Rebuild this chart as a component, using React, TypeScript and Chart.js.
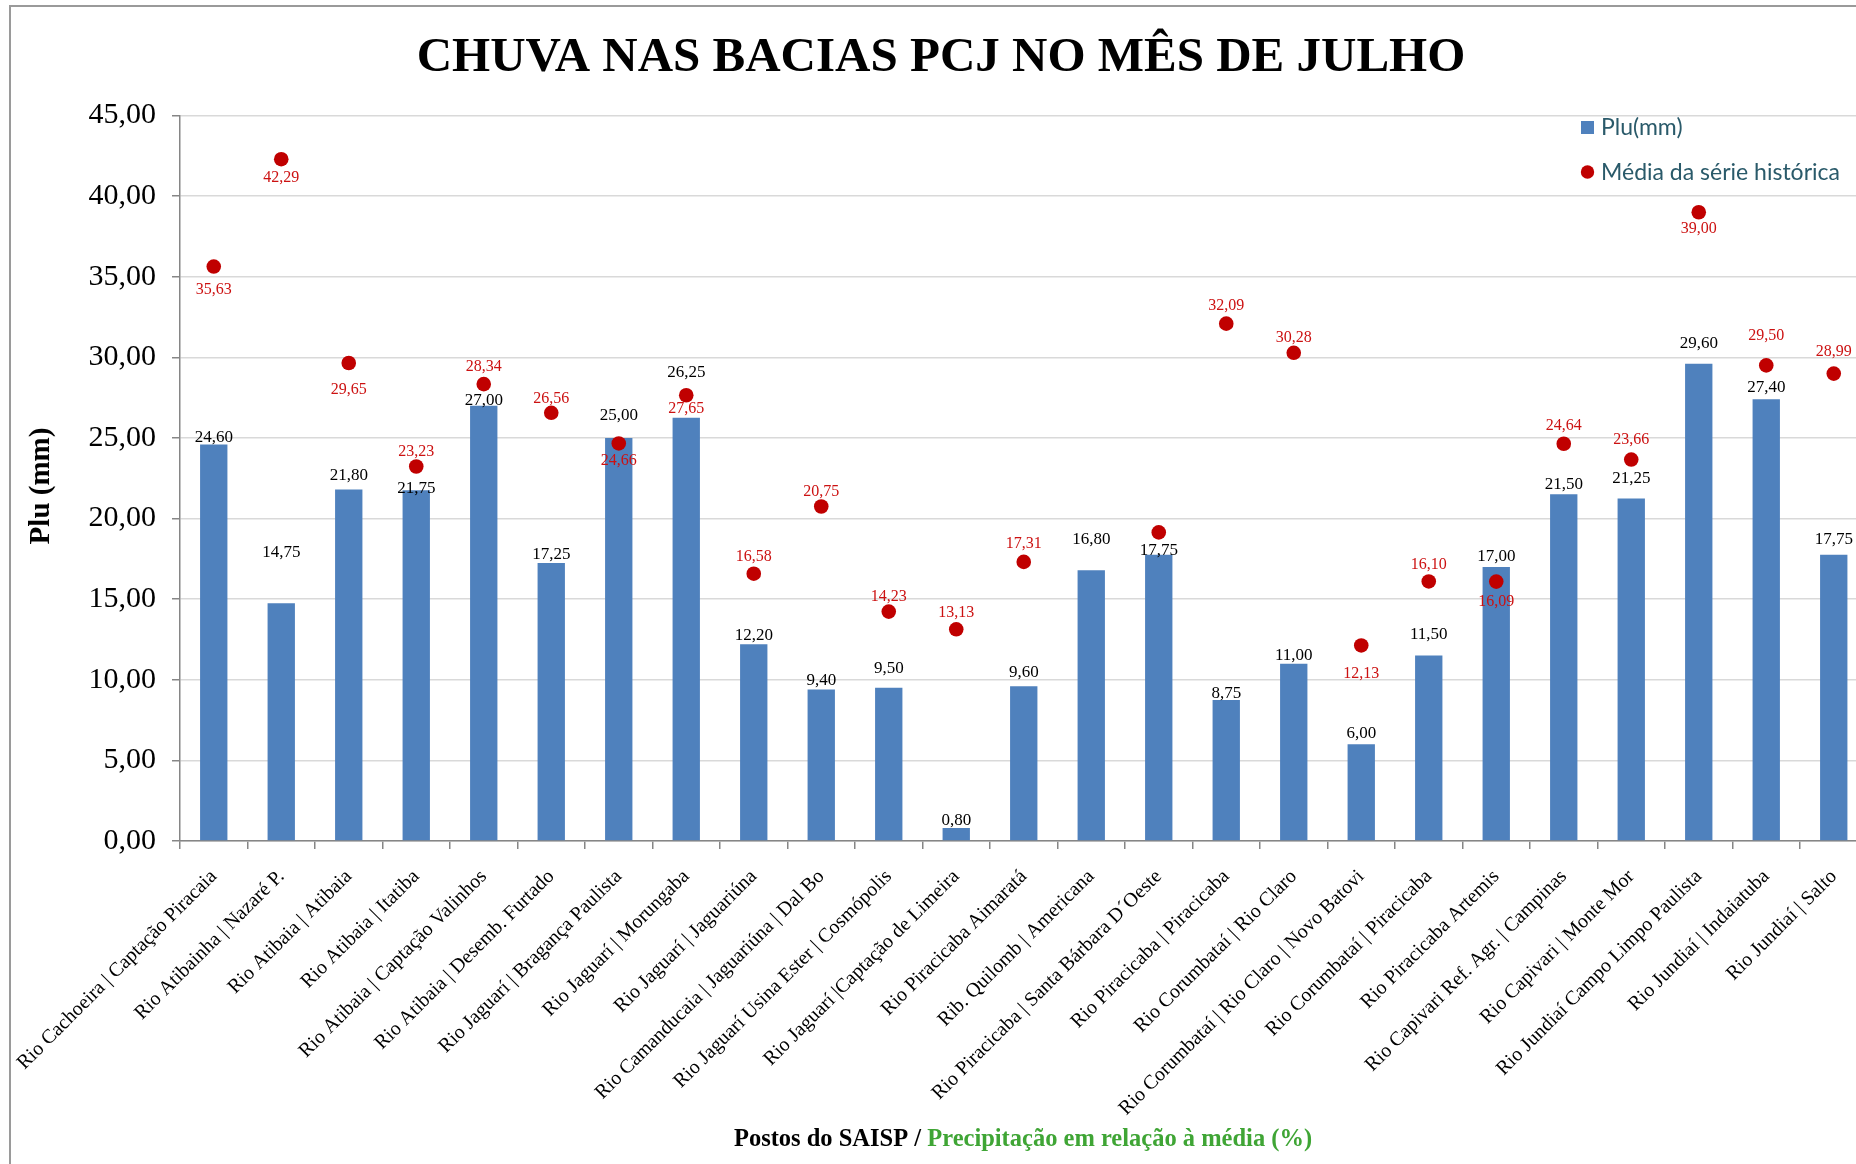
import React, { useEffect, useRef } from 'react';
import { Chart, registerables } from 'chart.js';

Chart.register(...registerables);

// ---------- data ----------
const categories: string[] = [
  'Rio Cachoeira | Captação Piracaia',
  'Rio Atibainha | Nazaré P.',
  'Rio Atibaia | Atibaia',
  'Rio Atibaia | Itatiba',
  'Rio Atibaia | Captação Valinhos',
  'Rio Atibaia | Desemb. Furtado',
  'Rio Jaguarí | Bragança Paulista',
  'Rio Jaguarí | Morungaba',
  'Rio Jaguarí | Jaguariúna',
  'Rio Camanducaia | Jaguariúna | Dal Bo',
  'Rio Jaguarí Usina Ester | Cosmópolis',
  'Rio Jaguarí |Captação de Limeira',
  'Rio Piracicaba Aimaratá',
  'Rib. Quilomb | Americana',
  'Rio Piracicaba | Santa Bárbara D´Oeste',
  'Rio Piracicaba | Piracicaba',
  'Rio Corumbataí | Rio Claro',
  'Rio Corumbataí | Rio Claro | Novo Batovi',
  'Rio Corumbataí | Piracicaba',
  'Rio Piracicaba Artemis',
  'Rio Capivari Ref. Agr. | Campinas',
  'Rio Capivari | Monte Mor',
  'Rio Jundiaí Campo Limpo Paulista',
  'Rio Jundiaí | Indaiatuba',
  'Rio Jundiaí | Salto',
];

const pluValues: number[] = [
  24.6, 14.75, 21.8, 21.75, 27.0, 17.25, 25.0, 26.25, 12.2, 9.4, 9.5, 0.8, 9.6,
  16.8, 17.75, 8.75, 11.0, 6.0, 11.5, 17.0, 21.5, 21.25, 29.6, 27.4, 17.75,
];

const mediaValues: (number | null)[] = [
  35.63, 42.29, 29.65, 23.23, 28.34, 26.56, 24.66, 27.65, 16.58, 20.75, 14.23,
  13.13, 17.31, null, 19.14, 32.09, 30.28, 12.13, 16.1, 16.09, 24.64, 23.66,
  39.0, 29.5, 28.99,
];

const yTickValues: number[] = [0, 5, 10, 15, 20, 25, 30, 35, 40, 45];

// ---------- label placement (style, px relative to the mark) ----------
const barLabelOffsets: number[] = [
  -7, -51, -14, -2, -5, -8, -22, -45, -9, -9, -19, -8, -14, -31, -4, -6, -8,
  -11, -21, -10, -10, -20, -20, -12, -15,
];
const mediaLabelOffsets: (number | null)[] = [
  23, 19, 27, -15, -17, -14, 17, 14, -17, -15, -15, -17, -18, null, null, -18,
  -15, 28, -17, 20, -18, -20, 17, -30, -22,
];

const fmt = (v: number) => v.toFixed(2).replace('.', ',');

const SERIF = '"Liberation Serif", "Times New Roman", serif';
const BAR_COLOR = '#4F81BD';
const DOT_COLOR = '#C00000';

const decorPlugin = {
  id: 'decor',
  afterDraw(chart: any) {
    const ctx = chart.ctx as CanvasRenderingContext2D;
    const W = chart.width;
    const H = chart.height;
    ctx.save();
    // frame
    ctx.strokeStyle = '#9a9a9a';
    ctx.lineWidth = 2;
    ctx.beginPath();
    ctx.moveTo(10, H);
    ctx.lineTo(10, 6);
    ctx.lineTo(W, 6);
    ctx.stroke();

    // title
    ctx.fillStyle = '#000';
    ctx.font = `bold 49px ${SERIF}`;
    ctx.textAlign = 'center';
    ctx.textBaseline = 'alphabetic';
    ctx.fillText('CHUVA NAS BACIAS PCJ NO MÊS DE JULHO', 941, 71);

    // y title
    ctx.save();
    ctx.translate(42, 486);
    ctx.rotate(-Math.PI / 2);
    ctx.font = `bold 29px ${SERIF}`;
    ctx.textBaseline = 'middle';
    ctx.fillText('Plu (mm)', 0, 0);
    ctx.restore();

    // x title (two colours)
    ctx.font = `bold 24.5px ${SERIF}`;
    const p1 = 'Postos do SAISP / ';
    const p2 = 'Precipitação em relação à média (%)';
    const w1 = ctx.measureText(p1).width;
    const w2 = ctx.measureText(p2).width;
    const x0 = 1023 - (w1 + w2) / 2;
    ctx.textAlign = 'left';
    ctx.fillStyle = '#000';
    ctx.fillText(p1, x0, 1146);
    ctx.fillStyle = '#3FA535';
    ctx.fillText(p2, x0 + w1, 1146);

    // legend
    const ds = chart.data.datasets;
    ctx.font = '23px Lato, "Open Sans", sans-serif';
    ctx.textBaseline = 'middle';
    ctx.fillStyle = ds[0].backgroundColor;
    ctx.fillRect(1581, 121, 13, 13);
    ctx.fillStyle = '#2A5A6A';
    ctx.fillText(ds[0].label, 1601, 128);
    ctx.fillStyle = ds[1].pointBackgroundColor;
    ctx.beginPath();
    ctx.arc(1587.5, 172, 6.7, 0, Math.PI * 2);
    ctx.fill();
    ctx.fillStyle = '#2A5A6A';
    ctx.fillText(ds[1].label, 1601, 173);
    ctx.restore();
  },
  afterDatasetsDraw(chart: any) {
    const ctx = chart.ctx as CanvasRenderingContext2D;
    const barMeta = chart.getDatasetMeta(0);
    const ptMeta = chart.getDatasetMeta(1);
    ctx.save();
    ctx.textAlign = 'center';
    ctx.textBaseline = 'middle';
    ctx.font = `17px ${SERIF}`;
    ctx.fillStyle = '#000';
    barMeta.data.forEach((el: any, i: number) => {
      ctx.fillText(fmt(pluValues[i]), el.x, el.y + barLabelOffsets[i]);
    });
    ctx.font = `16px ${SERIF}`;
    ctx.fillStyle = '#CC1111';
    ptMeta.data.forEach((el: any, i: number) => {
      const v = mediaValues[i];
      const off = mediaLabelOffsets[i];
      if (v == null || off == null) return;
      ctx.fillText(fmt(v), el.x, el.y + off);
    });
    ctx.restore();
  },
};

export default function App() {
  const ref = useRef<HTMLCanvasElement | null>(null);

  useEffect(() => {
    if (!ref.current) return;
    const chart = new Chart(ref.current, {
      type: 'bar',
      data: {
        labels: categories,
        datasets: [
          {
            type: 'bar',
            label: 'Plu(mm)',
            data: pluValues,
            backgroundColor: BAR_COLOR,
            borderWidth: 0,
            barPercentage: 0.405,
            categoryPercentage: 1,
            order: 2,
          } as any,
          {
            type: 'line',
            label: 'Média da série histórica',
            data: mediaValues,
            showLine: false,
            pointRadius: 7.3,
            pointHoverRadius: 7.3,
            pointBackgroundColor: DOT_COLOR,
            pointBorderWidth: 0,
            borderColor: DOT_COLOR,
            backgroundColor: DOT_COLOR,
            order: 1,
          } as any,
        ],
      },
      options: {
        responsive: false,
        animation: false,
        layout: { padding: { left: 80, top: 115.5, right: 12.5, bottom: 33 } },
        plugins: {
          legend: { display: false },
          title: { display: false },
          tooltip: { enabled: false },
        },
        scales: {
          x: {
            ticks: {
              autoSkip: false,
              minRotation: 45,
              maxRotation: 45,
              color: '#000',
              font: { family: SERIF, size: 20 },
              padding: 16,
            },
            grid: {
              offset: true,
              drawOnChartArea: false,
              drawTicks: true,
              tickLength: 8,
              color: '#868686',
              tickColor: '#868686',
              lineWidth: 1.5,
            },
            border: { color: '#868686', width: 1.5 },
            afterFit: (s: any) => {
              s.height = 290;
            },
          },
          y: {
            min: 0,
            max: 45,
            afterBuildTicks: (s: any) => {
              s.ticks = yTickValues.map((v) => ({ value: v }));
            },
            ticks: {
              color: '#000',
              font: { family: SERIF, size: 30 },
              padding: 16,
              callback: (v: any) => fmt(Number(v)),
            },
            grid: {
              color: '#D9D9D9',
              lineWidth: 1.5,
              drawTicks: true,
              tickLength: 8,
              tickColor: '#868686',
            },
            border: { color: '#868686', width: 1.5 },
            afterFit: (s: any) => {
              s.width = 100;
            },
          },
        },
      } as any,
      plugins: [decorPlugin],
    });
    return () => chart.destroy();
  }, []);

  return (
    <div
      style={{
        position: 'fixed',
        left: 0,
        top: 0,
        width: 1856,
        height: 1164,
        overflow: 'hidden',
        background: '#fff',
      }}
    >
      <canvas ref={ref} width={1880} height={1164} style={{ display: 'block' }} />
    </div>
  );
}
